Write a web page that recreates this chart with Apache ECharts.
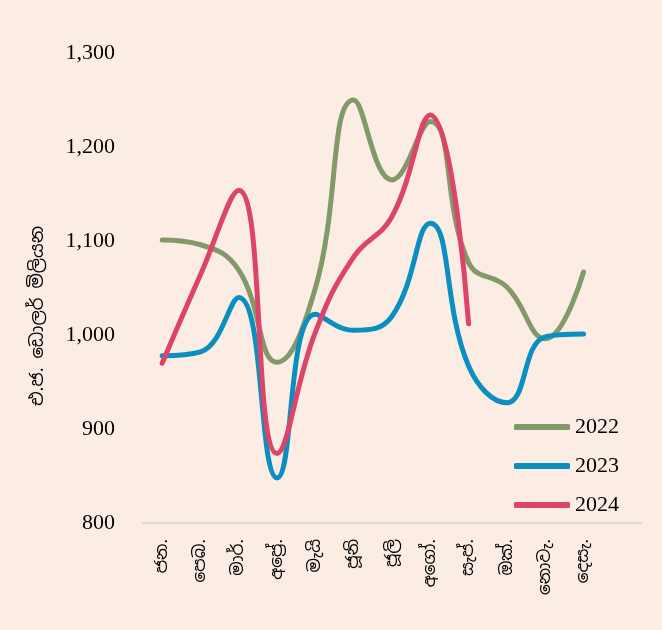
<!DOCTYPE html>
<html>
<head>
<meta charset="utf-8">
<script src="https://cdn.jsdelivr.net/npm/echarts@6/dist/echarts.min.js"></script>
<style>
  html, body { margin: 0; padding: 0; background: #fcede4; }
  #chart { width: 662px; height: 630px; }
</style>
</head>
<body>
<div id="chart"></div>
<script>
// months (Sinhala); the last empty slot leaves room for the legend
const months = ['ජන.', 'පෙබ.', 'මාර්.', 'අප්‍රේ.', 'මැයි', 'ජූනි', 'ජූලි', 'අගෝ.', 'සැප්.', 'ඔක්.', 'නොවැ.', 'දෙසැ.', ''];

const y2022 = [1101, 1096, 1069, 971, 1050, 1250, 1165, 1227, 1077, 1051, 996, 1067, null];
const y2023 = [978, 982, 1040, 848, 1022, 1005, 1020, 1119, 967, 928, 998, 1001, null];
const y2024 = [970, 1064, 1154, 874, 1003, 1083, 1126, 1234, 1012, null, null, null, null];

const yTicks = { min: 800, max: 1300, step: 100 };

const serif = '"Liberation Serif", "Times New Roman", serif';
const sinhala = '"Noto Sans Sinhala", "Iskoola Pota", sans-serif';

const chart = echarts.init(document.getElementById('chart'));

const mkSeries = (name, data, color) => ({
  name,
  type: 'line',
  data,
  smooth: 0.45,
  symbol: 'none',
  lineStyle: { width: 5, color, cap: 'round' },
  itemStyle: { color },
});

chart.setOption({
  backgroundColor: '#fcede4',
  animation: false,
  grid: { left: 143, right: 21, top: 53, bottom: 107 },
  legend: {
    orient: 'vertical',
    right: 38,
    top: 411,
    itemGap: 17,
    itemWidth: 56,
    itemHeight: 6,
    icon: 'roundRect',
    textStyle: { fontFamily: serif, fontSize: 22, color: '#000' },
    data: ['2022', '2023', '2024'],
  },
  xAxis: {
    type: 'category',
    data: months,
    boundaryGap: true,
    axisLine: { lineStyle: { color: '#d9d9d9', width: 2 } },
    axisTick: { show: false },
    axisLabel: {
      rotate: 90,
      interval: 0,
      margin: 16,
      fontFamily: sinhala,
      fontSize: 17,
      color: '#000',
    },
  },
  yAxis: {
    type: 'value',
    min: yTicks.min,
    max: yTicks.max,
    interval: yTicks.step,
    name: 'එ.ජ. ඩොලර් මිලියන',
    nameLocation: 'middle',
    nameGap: 96,
    nameRotate: 90,
    nameTextStyle: { fontFamily: sinhala, fontSize: 18, color: '#000', padding: [0, 56, 0, 0] },
    axisLine: { show: false },
    axisTick: { show: false },
    splitLine: { show: false },
    axisLabel: {
      margin: 28,
      fontFamily: serif,
      fontSize: 22,
      color: '#000',
      formatter: (v) => v.toLocaleString('en-US'),
    },
  },
  series: [
    mkSeries('2022', y2022, '#83996a'),
    mkSeries('2023', y2023, '#0b8fc1'),
    mkSeries('2024', y2024, '#dc4567'),
  ],
});
</script>
</body>
</html>
